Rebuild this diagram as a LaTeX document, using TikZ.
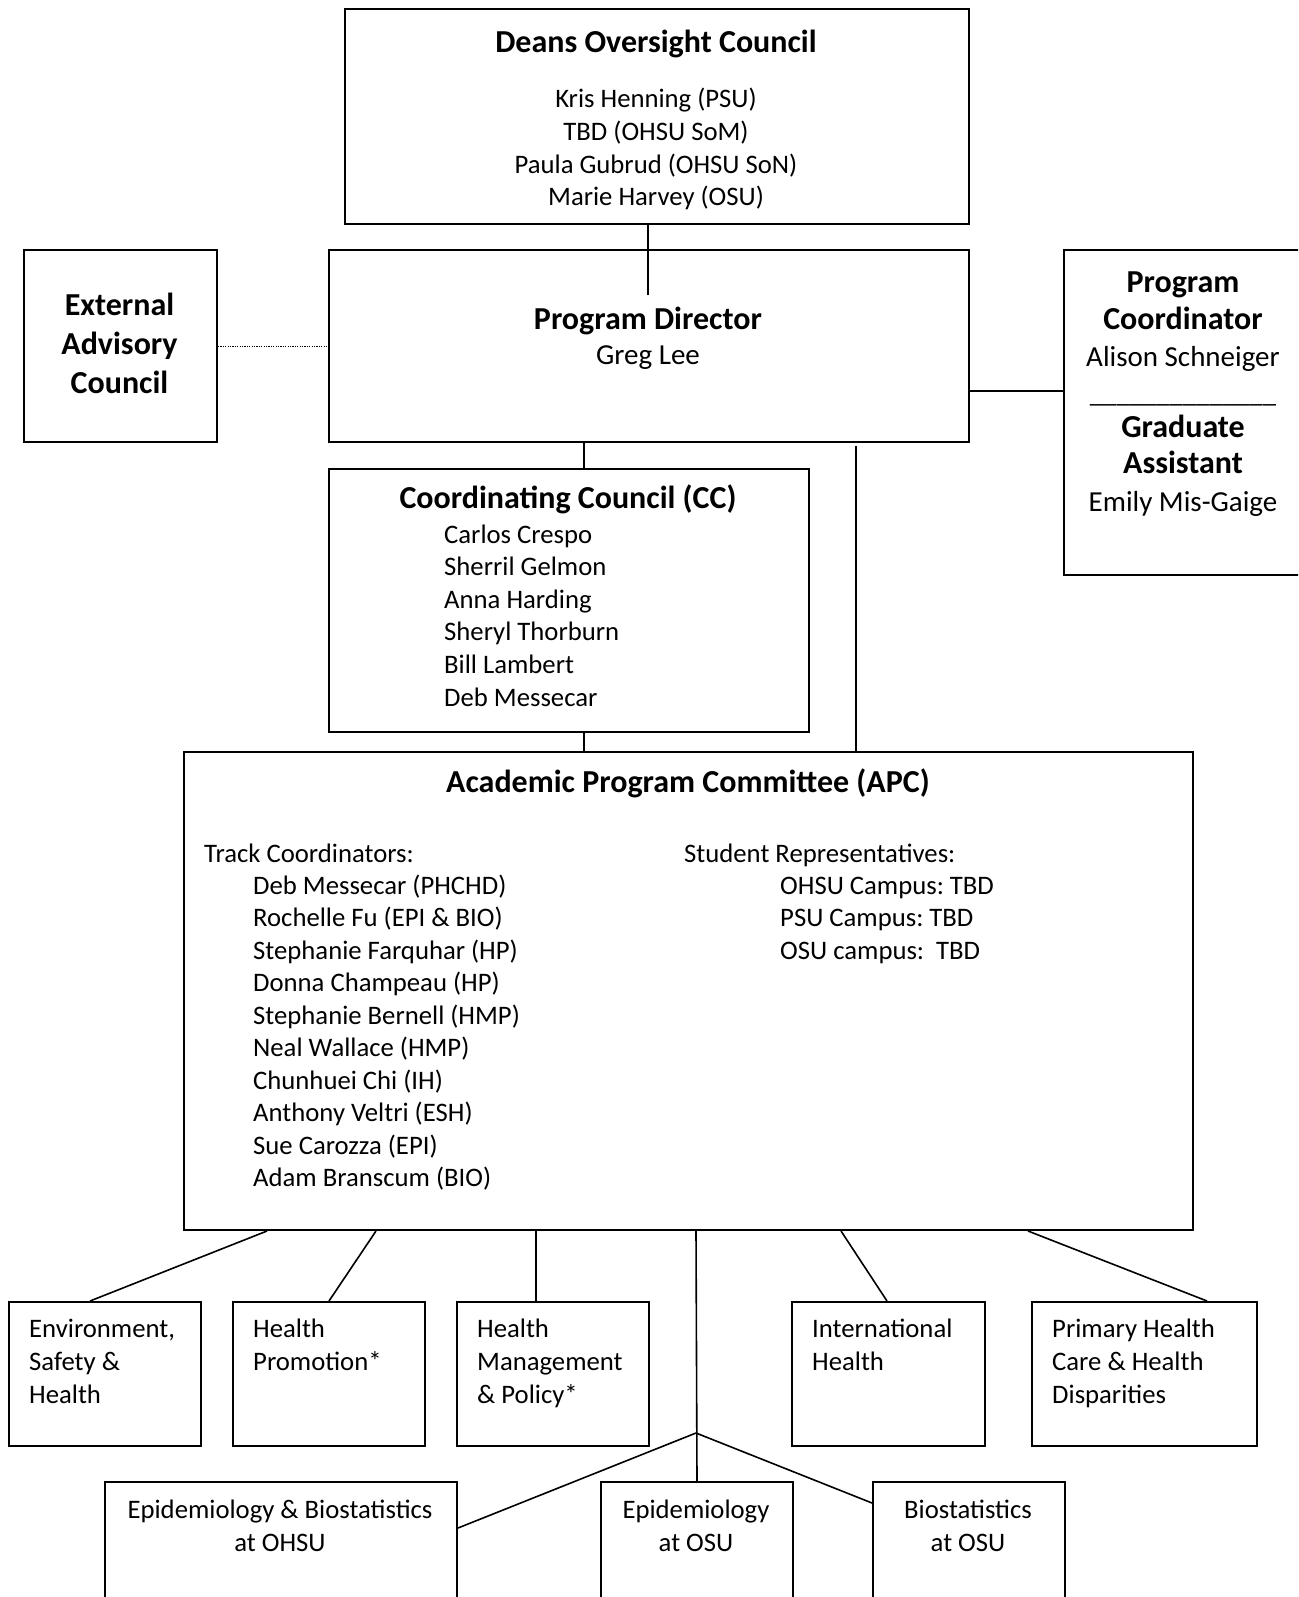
\documentclass[tikz,border=0pt]{standalone}
\usepackage{fontspec}
\setmainfont{Carlito}
\usetikzlibrary{calc}
\frenchspacing

\tikzset{
  box/.style={draw, line width=2pt, inner sep=0pt, anchor=north west},
  ttl/.style={font=\fontsize{32}{38}\selectfont\bfseries, inner sep=0pt, anchor=base},
  txt/.style={font=\fontsize{26.7}{32.6}\selectfont, inner sep=0pt, anchor=base},
  big/.style={txt, font=\fontsize{29}{35}\selectfont},
  link/.style={line width=1.6pt}
}

\begin{document}
\begin{tikzpicture}[x=1pt,y=-1pt]
  \useasboundingbox (0,0) rectangle (1298,1597);
  \clip (0,0) rectangle (1298,1597);

  % boxes
  \node[box, minimum width=624pt, minimum height=215pt] (deans) at (344,8) {};
  \node[box, minimum width=640pt, minimum height=192pt] (pd) at (328,249) {};
  \node[box, minimum width=193pt, minimum height=192pt] (eac) at (23,249) {};
  \node[box, minimum width=240pt, minimum height=325pt] (pc) at (1063,249) {};
  \node[box, minimum width=480pt, minimum height=263pt] (cc) at (328,468) {};
  \node[box, minimum width=1009pt, minimum height=478pt] (apc) at (183,751) {};
  \node[box, minimum width=192pt, minimum height=144pt] (esh) at (8,1301) {};
  \node[box, minimum width=192pt, minimum height=144pt] (hp) at (232,1301) {};
  \node[box, minimum width=192pt, minimum height=144pt] (hmp) at (456,1301) {};
  \node[box, minimum width=193pt, minimum height=144pt] (ih) at (791,1301) {};
  \node[box, minimum width=225pt, minimum height=144pt] (phc) at (1031,1301) {};
  \node[box, minimum width=352pt, minimum height=200pt] (ebohsu) at (104,1481) {};
  \node[box, minimum width=192pt, minimum height=200pt] (epiosu) at (600,1481) {};
  \node[box, minimum width=192pt, minimum height=200pt] (bioosu) at (872,1481) {};

  % deans
  \node[ttl] (deanstitle) at (656,53) {Deans Oversight Council};
  \foreach \who [count=\i from 0] in {Kris Henning (PSU), TBD (OHSU SoM), Paula Gubrud (OHSU SoN), Marie Harvey (OSU)}
    \node[txt] (dean\i) at (656,{108+32.6*\i}) {\who};

  % director
  \node[ttl] (pdtitle) at (648,329) {Program Director};
  \node[big] (pdname) at (648,364) {Greg Lee};

  % advisory council
  \foreach \w [count=\i from 0] in {External, Advisory, Council}
    \node[ttl] (eac\i) at (119.5,{315+39*\i}) {\w};

  % coordinator
  \node[ttl] (pc1) at (1183,292) {Program};
  \node[ttl] (pc2) at (1183,329) {Coordinator};
  \node[big] (pc3) at (1183,366) {Alison Schneiger};
  \node[txt] (pcsep) at (1183,402) {\_\_\_\_\_\_\_\_\_\_\_\_\_\_};
  \node[ttl] (ga1) at (1183,437) {Graduate};
  \node[ttl] (ga2) at (1183,473) {Assistant};
  \node[big] (ga3) at (1183,511) {Emily Mis-Gaige};

  % coordinating council
  \node[ttl] (cctitle) at (568,508) {Coordinating Council (CC)};
  \foreach \who [count=\i from 0] in {Carlos Crespo, Sherril Gelmon, Anna Harding, Sheryl Thorburn, Bill Lambert, Deb Messecar}
    \node[txt, anchor=base west] (cc\i) at (444,{543+32.6*\i}) {\who};

  % academic program committee
  \node[ttl] (apctitle) at (688,792) {Academic Program Committee (APC)};
  \node[txt, anchor=base west] (tc) at (204,862) {Track Coordinators:};
  \foreach \who [count=\i from 0] in {Deb Messecar (PHCHD), Rochelle Fu (EPI \& BIO), Stephanie Farquhar (HP),
      Donna Champeau (HP), Stephanie Bernell (HMP), Neal Wallace (HMP), Chunhuei Chi (IH),
      Anthony Veltri (ESH), Sue Carozza (EPI), Adam Branscum (BIO)}
    \node[txt, anchor=base west] (tc\i) at (253,{894+32.5*\i}) {\who};
  \node[txt, anchor=base west] (sr) at (684,862) {Student Representatives:};
  \foreach \who [count=\i from 0] in {OHSU Campus: TBD, PSU Campus: TBD, OSU campus:\ \ TBD}
    \node[txt, anchor=base west] (sr\i) at (780,{894+32.5*\i}) {\who};

  % tracks (base = last line)
  \node[txt, anchor=base west, align=left] (eshtext) at (29,1403) {Environment,\\Safety \&\\Health};
  \node[txt, anchor=base west, align=left] (hptext) at (253,1370) {Health\\Promotion*};
  \node[txt, anchor=base west, align=left] (hmptext) at (477,1403) {Health\\Management\\\& Policy*};
  \node[txt, anchor=base west, align=left] (ihtext) at (812,1370) {International\\Health};
  \node[txt, anchor=base west, align=left] (phctext) at (1052,1403) {Primary Health\\Care \& Health\\Disparities};
  \node[txt, align=center] (ebtext) at (280,1551) {Epidemiology \& Biostatistics\\at OHSU};
  \node[txt, align=center] (epitext) at (696,1551) {Epidemiology\\at OSU};
  \node[txt, align=center] (biotext) at (968,1551) {Biostatistics\\at OSU};

  % connectors
  \coordinate (pdin) at (648,295);
  \coordinate (fork) at (696,1433);
  \draw[link] (deans.south -| pdin) -- (pdin);
  \draw[line width=1pt, dash pattern=on 1.2pt off 1.2pt] (eac) -- (pd);
  \draw[link] ([yshift=-45pt]pd.east) -- ([yshift=-45pt]pc.west |- pd.east);
  \draw[link] ([xshift=256pt]pd.south west) -- ([xshift=256pt]cc.north west);
  \draw[link] ([xshift=256pt]cc.south west) -- ([xshift=401pt]apc.north west);
  \draw[link] ([xshift=528pt,yshift=-3pt]pd.south west) -- ([xshift=673pt]apc.north west);
  \draw[link] ([xshift=84pt]apc.south west) -- ([xshift=82pt]esh.north west);
  \draw[link] ([xshift=193pt]apc.south west) -- (hp.north);
  \draw[link] ([xshift=353pt]apc.south west) -- ([xshift=80pt]hmp.north west);
  \draw[link] ([xshift=658pt]apc.south west) -- ([xshift=96pt]ih.north west);
  \draw[link] ([xshift=845pt]apc.south west) -- ([xshift=176pt]phc.north west);
  \draw[link] ([xshift=513pt]apc.south west) -- (epiosu.north);
  \draw[link] (fork) -- ([yshift=-47pt]ebohsu.north east);
  \draw[link] (fork) -- ([yshift=-22pt]bioosu.north west);
\end{tikzpicture}
\end{document}
